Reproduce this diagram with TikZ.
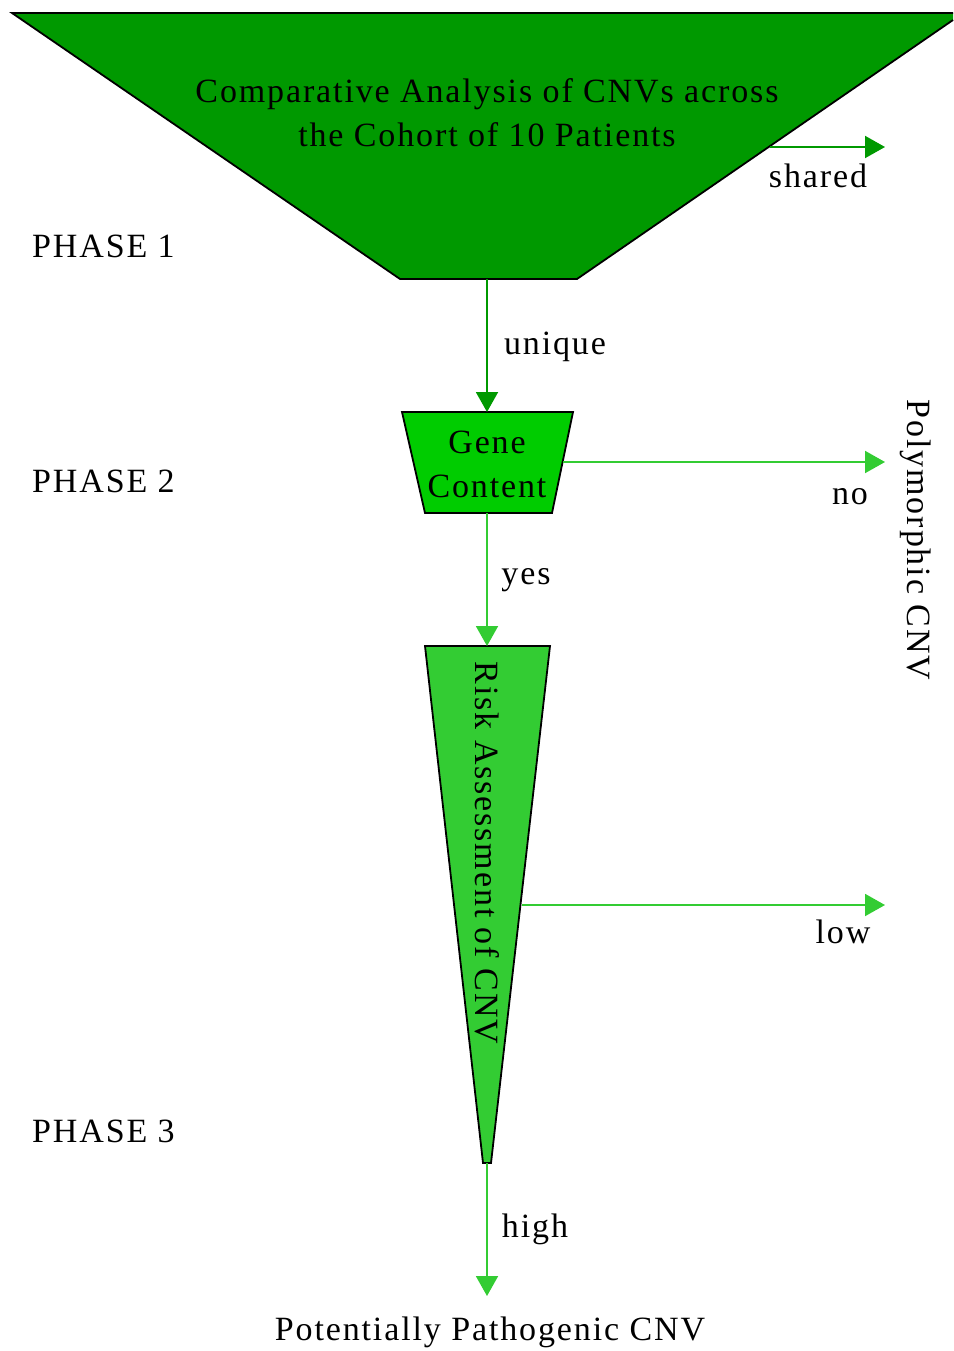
\documentclass[tikz,border=0pt]{standalone}
\usepackage{fontspec}
\setmainfont[LetterSpace=5.5]{Liberation Serif}
\usetikzlibrary{arrows.meta}
\definecolor{gdark}{HTML}{009900}
\definecolor{gmid}{HTML}{00CC00}
\definecolor{glight}{HTML}{33CC33}
\begin{document}
\begin{tikzpicture}[x=1pt,y=-1pt,
  lbl/.style={font=\fontsize{34}{40}\selectfont, inner sep=0pt},
  boxshape/.style={draw=black, line width=1.8pt},
  conn/.style={line width=2pt, -{Triangle[length=20pt,width=22pt]}},
]
\useasboundingbox (0,0) rectangle (953,1351);
% top funnel
\fill[gdark] (12,13) -- (953,13) -- (953,20) -- (577,279) -- (400,279) -- cycle;
\draw[line width=1.8pt] (953,20) -- (577,279) -- (400,279) -- (12,13) -- (953,13);
\node[lbl, align=center, font=\fontsize{34}{44}\selectfont] (cmp) at (487,113) {Comparative Analysis of CNVs across\\the Cohort of 10 Patients};
\coordinate (topbot) at (487,279);
\coordinate (topright) at (770,147);
% gene content
\draw[boxshape, fill=gmid] (402,412) -- (573,412) -- (552,513) -- (425,513) -- cycle;
\node[lbl, align=center, font=\fontsize{34}{44}\selectfont] (gene) at (487,464) {Gene\\Content};
\coordinate (genetop) at (487,412);
\coordinate (genebot) at (487,513);
\coordinate (generight) at (563,462);
% risk triangle
\draw[boxshape, fill=glight] (425,646) -- (550,646) -- (491,1163) -- (483,1163) -- cycle;
\node[lbl, rotate=-90] (risk) at (487,853) {Risk Assessment of CNV};
\coordinate (risktop) at (487,646);
\coordinate (riskbot) at (487,1163);
\coordinate (riskright) at (522,905);
% end points
\coordinate (sharedend) at (885,147);
\coordinate (noend) at (885,462);
\coordinate (lowend) at (885,905);
\coordinate (highend) at (487,1296);
% arrows
\draw[conn, gdark] (topright) -- (sharedend);
\draw[conn, gdark] (topbot) -- (genetop);
\draw[conn, glight] (generight) -- (noend);
\draw[conn, glight] (genebot) -- (risktop);
\draw[conn, glight] (riskright) -- (lowend);
\draw[conn, glight] (riskbot) -- (highend);
% labels
\node[lbl] (shared) at (818,176) {shared};
\node[lbl] (unique) at (555,347) {unique};
\node[lbl] (no) at (850,497) {no};
\node[lbl] (yes) at (526,580) {yes};
\node[lbl] (low) at (843,932) {low};
\node[lbl] (high) at (535,1229) {high};
\node[lbl, rotate=-90] (poly) at (916,540) {Polymorphic CNV};
\node[lbl, anchor=west] (p1) at (32,246) {PHASE 1};
\node[lbl, anchor=west] (p2) at (32,481) {PHASE 2};
\node[lbl, anchor=west] (p3) at (32,1131) {PHASE 3};
\node[lbl] (path) at (490,1332) {Potentially Pathogenic CNV};
\end{tikzpicture}
\end{document}
